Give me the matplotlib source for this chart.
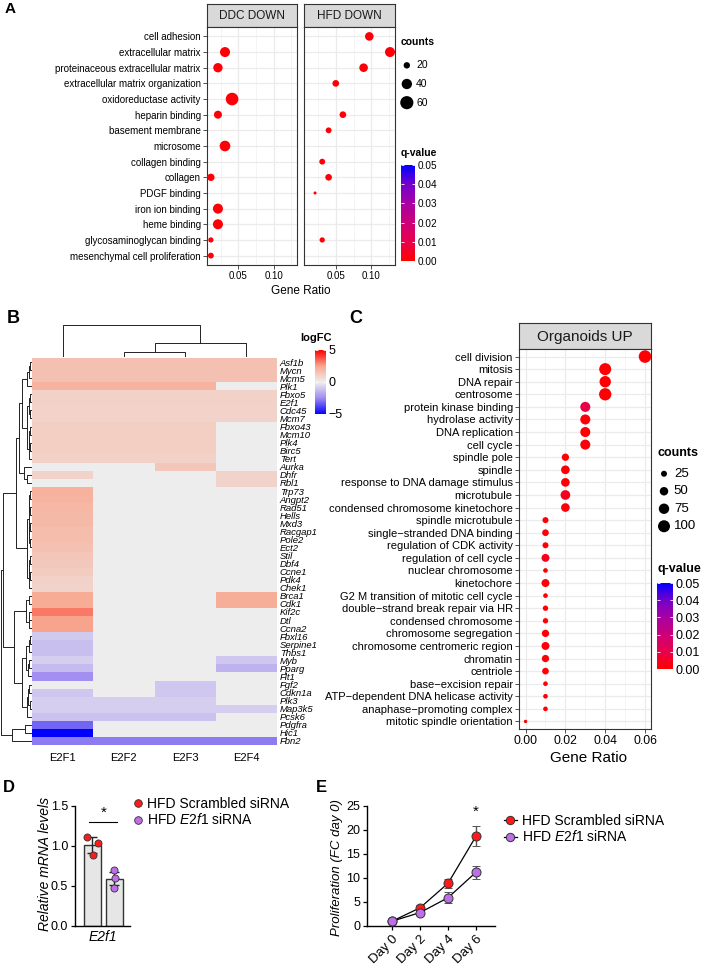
import numpy as np
import matplotlib
matplotlib.use("Agg")
import matplotlib.pyplot as plt
from matplotlib.colors import LinearSegmentedColormap
from matplotlib.lines import Line2D

W, H = 717, 968

plt.rcParams['font.family'] = ['Liberation Sans', 'DejaVu Sans']
plt.rcParams['mathtext.fontset'] = 'custom'
plt.rcParams['mathtext.rm'] = 'Liberation Sans'
plt.rcParams['mathtext.it'] = 'Liberation Sans:italic'

RED = "#FF1A1A"
PURPLE = "#BE6EE8"

# ---------------- panel A: GO terms down-regulated
terms_a = ["cell adhesion", "extracellular matrix", "proteinaceous extracellular matrix",
           "extracellular matrix organization", "oxidoreductase activity", "heparin binding",
           "basement membrane", "microsome", "collagen binding", "collagen", "PDGF binding",
           "iron ion binding", "heme binding", "glycosaminoglycan binding",
           "mesenchymal cell proliferation"]
nan = np.nan
ddc_ratio = [nan, 0.031, 0.021, nan, 0.041, 0.021, nan, 0.031, nan, 0.011, nan, 0.021, 0.021, 0.011, 0.011]
ddc_counts = [nan, 38, 34, nan, 56, 27, nan, 42, nan, 24, nan, 38, 38, 16, 18]
ddc_q = [nan, 0.001, 0.001, nan, 0.001, 0.001, nan, 0.001, nan, 0.001, nan, 0.001, 0.001, 0.001, 0.001]
hfd_ratio = [0.097, 0.126, 0.089, 0.050, nan, 0.060, 0.040, nan, 0.031, 0.040, 0.021, nan, nan, 0.031, nan]
hfd_counts = [30, 38, 30, 21, nan, 21, 18, nan, 18, 21, 10, nan, nan, 16, nan]
hfd_q = [0.001, 0.001, 0.001, 0.001, nan, 0.001, 0.001, nan, 0.001, 0.001, 0.001, nan, nan, 0.001, nan]
legend_counts_a = [20, 40, 60]

# ---------------- panel B: heatmap logFC
genes = ["Asf1b", "Mycn", "Mcm5", "Plk1", "Fbxo5", "E2f1", "Cdc45", "Mcm7", "Fbxo43", "Mcm10",
         "Plk4", "Birc5", "Tert", "Aurka", "Dhfr", "Rbl1", "Trp73", "Angpt2", "Rad51", "Hells",
         "Mxd3", "Racgap1", "Pole2", "Ect2", "Stil", "Dbf4", "Ccne1", "Pdk4", "Chek1", "Brca1",
         "Cdk1", "Kif2c", "Dtl", "Ccna2", "Fbxl16", "Serpine1", "Thbs1", "Myb", "Pparg", "Flt1",
         "Fgf2", "Cdkn1a", "Plk3", "Map3k5", "Pcsk6", "Pdgfra", "Hic1", "Fbn2"]
factors = ["E2F1", "E2F2", "E2F3", "E2F4"]
lfc_e2f1 = [1.6, 1.6, 1.6, 2.0, 1.0, 1.0, 0.9, 0.9, 1.1, 1.1, 1.1, 1.1, 1.0, 0, 0.9, 0,
            2.1, 2.0, 1.9, 1.8, 1.8, 1.7, 1.7, 1.6, 1.4, 1.3, 1.2, 1.0, 0.9, 2.3, 2.3, 3.2,
            2.5, 2.5, -0.9, -1.2, -1.2, -0.8, -1.3, -2.4, 0, -1.0, -0.8, -0.8, -1.1, -3.2, -5.0, -2.8]
lfc_e2f2 = [1.6, 1.6, 1.6, 2.0, 1.0, 1.0, 0.9, 0.9, 1.1, 1.1, 1.1, 1.1, 1.0, 0, 0, 0,
            0, 0, 0, 0, 0, 0, 0, 0, 0, 0, 0, 0, 0, 0, 0, 0,
            0, 0, 0, 0, 0, 0, 0, 0, 0, 0, -0.8, -0.8, -1.1, 0, 0, -2.8]
lfc_e2f3 = [1.6, 1.6, 1.6, 2.0, 1.0, 1.0, 0.9, 0.9, 1.1, 1.1, 1.1, 1.1, 1.0, 1.4, 0, 0,
            0, 0, 0, 0, 0, 0, 0, 0, 0, 0, 0, 0, 0, 0, 0, 0,
            0, 0, 0, 0, 0, 0, 0, 0, -1.0, -1.0, -0.8, -0.8, -1.1, 0, 0, -2.8]
lfc_e2f4 = [1.6, 1.6, 1.6, 0, 1.0, 1.0, 0.9, 0.9, 0, 0, 0, 0, 0, 0, 0.9, 0.9,
            0, 0, 0, 0, 0, 0, 0, 0, 0, 0, 0, 0, 0, 2.2, 2.2, 0,
            0, 0, 0, 0, 0, -1.0, -1.5, 0, 0, 0, 0, -0.8, 0, 0, 0, -2.8]

# dendrograms as (left, right, height) merges, leaves are row/column indices
col_tree = (0, ((1, 2, 0.13), 3, 0.42), 1.0)
g1 = (((0, 1, 0.04), 2, 0.06), 3, 0.12)
g2 = ((4, 5, 0.03), (6, 7, 0.03), 0.06)
g3 = (((8, 9, 0.03), (10, 11, 0.03), 0.05), 12, 0.08)
g4 = (13, (14, 15, 0.12), 0.22)
g5 = ((((16, 17, 0.03), (18, 19, 0.03), 0.05), ((20, 21, 0.03), (22, 23, 0.03), 0.05), 0.08),
      (((24, 25, 0.03), (26, 27, 0.03), 0.05), 28, 0.07), 0.12)
g6 = ((29, 30, 0.05), ((31, 32, 0.05), 33, 0.07), 0.15)
g7 = (((34, 35, 0.03), 36, 0.05), ((37, 38, 0.06), 39, 0.1), 0.15)
g8 = (((40, 41, 0.06), (42, 43, 0.04), 0.09), 44, 0.12)
row_tree = ((((((g1, (g2, g3, 0.13), 0.3), g4, 0.4), g5, 0.5), (g6, (g7, g8, 0.3), 0.55), 0.95)),
            ((45, 46, 0.2), 47, 0.63), 1.0)

# ---------------- panel C: GO terms up in organoids
terms_c = ["cell division", "mitosis", "DNA repair", "centrosome", "protein kinase binding",
           "hydrolase activity", "DNA replication", "cell cycle", "spindle pole", "spindle",
           "response to DNA damage stimulus", "microtubule", "condensed chromosome kinetochore",
           "spindle microtubule", "single\u2212stranded DNA binding", "regulation of CDK activity",
           "regulation of cell cycle", "nuclear chromosome", "kinetochore",
           "G2 M transition of mitotic cell cycle", "double\u2212strand break repair via HR",
           "condensed chromosome", "chromosome segregation", "chromosome centromeric region",
           "chromatin", "centriole", "base\u2212excision repair",
           "ATP\u2212dependent DNA helicase activity", "anaphase\u2212promoting complex",
           "mitotic spindle orientation"]
ratio_c = [0.06, 0.04, 0.04, 0.04, 0.03, 0.03, 0.03, 0.03, 0.02, 0.02, 0.02, 0.02, 0.02,
           0.01, 0.01, 0.01, 0.01, 0.01, 0.01, 0.01, 0.01, 0.01, 0.01, 0.01, 0.01, 0.01,
           0.01, 0.01, 0.01, 0.0]
counts_c = [110, 100, 90, 105, 70, 70, 70, 70, 37, 52, 52, 65, 52, 25, 31, 25, 44, 15, 44,
            15, 20, 20, 37, 44, 37, 31, 15, 15, 15, 8]
q_c = [0.0005, 0.0005, 0.0005, 0.0005, 0.009, 0.001, 0.0005, 0.001, 0.0005, 0.0005, 0.001,
       0.004, 0.001, 0.0005, 0.001, 0.0005, 0.004, 0.0005, 0.001, 0.0005, 0.0005, 0.0005,
       0.001, 0.001, 0.0005, 0.001, 0.0005, 0.0005, 0.0005, 0.0005]
legend_counts_c = [25, 50, 75, 100]

# ---------------- panel D: qPCR
mrna_scr = [1.11, 1.04, 0.89]
mrna_si = [0.70, 0.60, 0.47]
mrna_err = [0.10, 0.08]
jitter = [[-0.26, 0.24, 0.02], [0.0, 0.04, 0.0]]

# ---------------- panel E: proliferation
days = ["Day 0", "Day 2", "Day 4", "Day 6"]
prolif_scr = [1.0, 3.8, 8.9, 18.7]
prolif_scr_err = [0.2, 0.5, 0.9, 2.1]
prolif_si = [1.0, 2.8, 5.9, 11.2]
prolif_si_err = [0.2, 0.3, 1.1, 1.4]

q_cmap = LinearSegmentedColormap.from_list(
    "q", ["#FF0000", "#E8004C", "#CC0078", "#A800A2", "#7400CC", "#0000FF"])
lfc_cmap = LinearSegmentedColormap.from_list(
    "lfc", [(0, "#0000FF"), (0.25, "#A08CF0"), (0.5, "#EEEEEE"), (0.75, "#F8A68E"), (1, "#FF0000")])

fig = plt.figure(figsize=(W / 100, H / 100), dpi=100)


def px(l, t, r, b):
    return fig.add_axes([l / W, 1 - b / H, (r - l) / W, (b - t) / H])


def ftext(x, y, s, **kw):
    return fig.text(x / W, 1 - y / H, s, **kw)


def size_a(c):
    return 0.5184 * np.clip(3.3 * np.asarray(c, float) - 25, 9, None)


def size_c(c):
    return 0.5184 * 1.44 * np.asarray(c, float)


def strip(l, t, r, b, label, fs):
    s = px(l, t, r, b)
    s.set_facecolor("#D9D9D9")
    s.set_xticks([])
    s.set_yticks([])
    for sp in s.spines.values():
        sp.set_color("#333333")
        sp.set_linewidth(0.8)
    s.text(0.5, 0.47, label, ha="center", va="center", fontsize=fs, color="#1A1A1A",
           transform=s.transAxes)


def dot_axes(ax, ratio, counts, q, size_fn, xlim, major, minor, labels, fs, tfs):
    n = len(ratio)
    r = np.asarray(ratio, float)
    ok = ~np.isnan(r)
    y = np.arange(n)
    sc = ax.scatter(r[ok], y[ok], s=size_fn(np.asarray(counts, float)[ok]),
                    c=np.asarray(q, float)[ok], cmap=q_cmap, vmin=0, vmax=0.05,
                    linewidths=0, zorder=3)
    ax.set_xlim(*xlim)
    ax.set_ylim(n - 0.4, -0.6)
    ax.set_xticks(major)
    ax.set_xticks(minor, minor=True)
    ax.set_yticks(y)
    ax.grid(True, which="major", color="#EBEBEB", lw=0.9)
    ax.grid(True, which="minor", axis="x", color="#F3F3F3", lw=0.6)
    ax.set_axisbelow(True)
    ax.tick_params(which="minor", length=0)
    ax.tick_params(which="major", length=3, width=0.6, color="#333333", pad=1.5)
    ax.tick_params(axis="x", labelsize=tfs)
    if labels is None:
        ax.tick_params(axis="y", left=False, labelleft=False)
    else:
        ax.set_yticklabels(labels, fontsize=fs)
    for sp in ax.spines.values():
        sp.set_color("#333333")
        sp.set_linewidth(0.8)
    return sc


def q_colorbar(sc, box, fs):
    cax = px(*box)
    cb = fig.colorbar(sc, cax=cax, ticks=[0, 0.01, 0.02, 0.03, 0.04, 0.05])
    cb.outline.set_visible(False)
    cax.set_yticklabels(["0.00", "0.01", "0.02", "0.03", "0.04", "0.05"], fontsize=fs)
    cax.tick_params(direction="in", length=2.5, width=0.6, color="white", left=True, right=True, pad=2)


def size_legend(box, values, size_fn, fs, dot_x, lab_x):
    lg = px(*box)
    lg.axis("off")
    lg.set_xlim(0, 1)
    lg.set_ylim(len(values) - 0.5, -0.5)
    lg.scatter([dot_x] * len(values), range(len(values)), s=size_fn(values), color="black",
               linewidths=0, clip_on=False)
    for i, v in enumerate(values):
        lg.text(lab_x, i, str(v), va="center", ha="left", fontsize=fs)


def draw_tree(ax, node, top):
    if isinstance(node, int):
        return node + 0.5, 0.0
    left, right, h = node
    cl, hl = draw_tree(ax, left, top)
    cr, hr = draw_tree(ax, right, top)
    if top:
        ax.plot([cl, cl, cr, cr], [hl, h, h, hr], color="#222222", lw=0.7, clip_on=False)
    else:
        ax.plot([hl, h, h, hr], [cl, cl, cr, cr], color="#222222", lw=0.7, clip_on=False)
    return (cl + cr) / 2, h


# ================= Panel A
ftext(5, 2, "A", fontsize=11, fontweight="bold", va="top")
strip(207, 4, 297, 27, "DDC DOWN", 8.5)
strip(304, 4, 395, 27, "HFD DOWN", 8.5)
ax_ddc = px(207, 27, 297, 265)
ax_hfd = px(304, 27, 395, 265)
xlim_a = (0.0055, 0.133)
sc_a = dot_axes(ax_ddc, ddc_ratio, ddc_counts, ddc_q, size_a, xlim_a, [0.05, 0.10],
                [0.025, 0.075, 0.125], terms_a, 7, 7)
dot_axes(ax_hfd, hfd_ratio, hfd_counts, hfd_q, size_a, xlim_a, [0.05, 0.10],
         [0.025, 0.075, 0.125], None, 7, 7)
for a in (ax_ddc, ax_hfd):
    a.set_xticklabels(["0.05", "0.10"])
ftext(301, 291, "Gene Ratio", fontsize=8.5, ha="center", va="center")
ftext(401, 42, "counts", fontsize=7.5, fontweight="bold", va="center")
size_legend((398, 56, 440, 112), legend_counts_a, size_a, 7.5, 0.21, 0.43)
ftext(401, 153, "q-value", fontsize=7.5, fontweight="bold", va="center")
q_colorbar(sc_a, (401, 165, 415, 261), 7.2)

# ================= Panel B
ftext(7, 310, "B", fontsize=13, fontweight="bold", va="top")
ax_hm = px(32, 358, 277, 745)
lfc = np.column_stack([lfc_e2f1, lfc_e2f2, lfc_e2f3, lfc_e2f4])
mesh = ax_hm.pcolormesh(np.arange(len(factors) + 1), np.arange(len(genes) + 1), lfc,
                        cmap=lfc_cmap, vmin=-5, vmax=5, shading="flat")
ax_hm.set_ylim(len(genes), 0)
ax_hm.set_xlim(0, len(factors))
ax_hm.set_xticks(np.arange(len(factors)) + 0.5)
ax_hm.set_xticklabels(factors, fontsize=8)
ax_hm.set_yticks(np.arange(len(genes)) + 0.5)
ax_hm.set_yticklabels(genes, fontsize=6.8, style="italic")
ax_hm.yaxis.tick_right()
ax_hm.tick_params(length=0, pad=2)
ax_hm.tick_params(axis="x", pad=6)
for sp in ax_hm.spines.values():
    sp.set_visible(False)

ax_cd = px(32, 325, 277, 356)
ax_cd.set_xlim(0, len(factors))
ax_cd.set_ylim(0, 1)
ax_cd.axis("off")
draw_tree(ax_cd, col_tree, True)

ax_rd = px(1, 358, 31, 745)
ax_rd.set_ylim(len(genes), 0)
ax_rd.set_xlim(1, 0)
ax_rd.axis("off")
draw_tree(ax_rd, row_tree, False)

ftext(316, 338, "logFC", fontsize=8, fontweight="bold", ha="center", va="center")
cax_b = px(315, 350, 326, 414)
cb_b = fig.colorbar(mesh, cax=cax_b, ticks=[-5, 0, 5])
cb_b.outline.set_visible(False)
cax_b.set_yticklabels(["\u22125", "0", "5"], fontsize=9)
cax_b.tick_params(direction="in", length=2.5, width=0.6, color="white", left=True, right=True, pad=2)

# ================= Panel C
ftext(349, 310, "C", fontsize=13, fontweight="bold", va="top")
strip(519, 323, 651, 349, "Organoids UP", 11)
ax_c = px(519, 349, 651, 729)
sc_c = dot_axes(ax_c, ratio_c, counts_c, q_c, size_c, (-0.0033, 0.063),
                [0.0, 0.02, 0.04, 0.06], [0.01, 0.03, 0.05], terms_c, 8, 8.7)
ax_c.set_xticklabels(["0.00", "0.02", "0.04", "0.06"])
ftext(588, 758, "Gene Ratio", fontsize=11, ha="center", va="center")
ftext(657, 453, "counts", fontsize=9, fontweight="bold", va="center")
size_legend((655, 465, 700, 535), legend_counts_c, size_c, 9.5, 0.2, 0.42)
ftext(657, 569, "q-value", fontsize=9, fontweight="bold", va="center")
q_colorbar(sc_c, (657, 583, 673, 669), 9)

# ================= Panel D
ftext(3, 780, "D", fontsize=12, fontweight="bold", va="top")
ax_d = px(75, 806, 130, 926)
groups = [mrna_scr, mrna_si]
colors = [RED, PURPLE]
xg = np.arange(len(groups))
means = [np.mean(g) for g in groups]
ax_d.bar(xg, means, width=0.79, color="#E6E6E6", edgecolor="#333333", linewidth=1.0, zorder=1)
ax_d.errorbar(xg, means, yerr=mrna_err, fmt="none", ecolor="#222222", elinewidth=1,
              capsize=3.5, capthick=1, zorder=2)
for i, g in enumerate(groups):
    ax_d.scatter(i + np.array(jitter[i]), g, s=26, color=colors[i], edgecolor="#333333",
                 linewidth=0.6, zorder=3, clip_on=False)
ax_d.set_xlim(-0.81, 1.74)
ax_d.set_ylim(0, 1.5)
ax_d.set_yticks([0, 0.5, 1.0, 1.5])
ax_d.set_yticklabels(["0.0", "0.5", "1.0", "1.5"], fontsize=9)
ax_d.set_xticks([0.5])
ax_d.set_xticklabels(["E2f1"], fontsize=10, style="italic")
ax_d.tick_params(axis="x", length=0, pad=3)
ax_d.tick_params(axis="y", length=3, width=0.9, pad=2)
for s in ("top", "right"):
    ax_d.spines[s].set_visible(False)
for s in ("left", "bottom"):
    ax_d.spines[s].set_linewidth(1.0)
ax_d.plot([-0.15, 1.12], [1.3, 1.3], color="black", lw=0.8, clip_on=False)
ax_d.text(0.5, 1.33, "*", ha="center", va="bottom", fontsize=11)
ftext(45, 864, "Relative mRNA levels", rotation=90, fontsize=10, style="italic",
      ha="center", va="center")
leg_d = [Line2D([], [], ls="none", marker="o", ms=5.5, mfc=c, mec="#333333", mew=0.6)
         for c in colors]
ax_d.legend(leg_d, ["HFD Scrambled siRNA", "HFD $\\mathit{E2f1}$ siRNA"], loc="upper left",
            bbox_to_anchor=(134 / W, 1 - 797 / H), bbox_transform=fig.transFigure,
            frameon=False, fontsize=10, handlelength=0.6, handletextpad=0.35,
            labelspacing=0.1, borderpad=0, borderaxespad=0)

# ================= Panel E
ftext(316, 780, "E", fontsize=12, fontweight="bold", va="top")
ax_e = px(367, 806, 495, 926)
xd = np.arange(len(days))
ax_e.errorbar(xd, prolif_scr, yerr=prolif_scr_err, color="black", lw=0.9, marker="o", ms=6.5,
              mfc=RED, mec="#333333", mew=0.7, ecolor="#555555", elinewidth=1, capsize=3,
              capthick=1, zorder=3, clip_on=False)
ax_e.errorbar(xd, prolif_si, yerr=prolif_si_err, color="black", lw=0.9, marker="o", ms=6.5,
              mfc=PURPLE, mec="#333333", mew=0.7, ecolor="#555555", elinewidth=1, capsize=3,
              capthick=1, zorder=4, clip_on=False)
ax_e.text(3, 22.4, "*", ha="center", va="bottom", fontsize=11)
ax_e.set_xlim(-0.9, 3.68)
ax_e.set_ylim(0, 25)
ax_e.set_yticks([0, 5, 10, 15, 20, 25])
ax_e.tick_params(axis="y", labelsize=9, length=3, width=0.9, pad=2)
ax_e.set_xticks(xd)
ax_e.set_xticklabels(days, rotation=45, ha="right", rotation_mode="anchor", fontsize=9.5)
ax_e.tick_params(axis="x", length=3, width=0.9, pad=2)
for s in ("top", "right"):
    ax_e.spines[s].set_visible(False)
for s in ("left", "bottom"):
    ax_e.spines[s].set_linewidth(1.0)
ftext(337, 868, "Proliferation (FC day 0)", rotation=90, fontsize=9.5, style="italic",
      ha="center", va="center")
leg_e = [Line2D([], [], ls="-", color="black", lw=0.9, marker="o", ms=6, mfc=c,
                mec="#333333", mew=0.7) for c in colors]
ax_e.legend(leg_e, ["HFD Scrambled siRNA", "HFD $\\mathit{E2f1}$ siRNA"], loc="upper left",
            bbox_to_anchor=(504 / W, 1 - 814 / H), bbox_transform=fig.transFigure,
            frameon=False, fontsize=10, handlelength=0.9, handletextpad=0.4,
            labelspacing=0.1, borderpad=0, borderaxespad=0)

fig.savefig("out.png", dpi=100)
